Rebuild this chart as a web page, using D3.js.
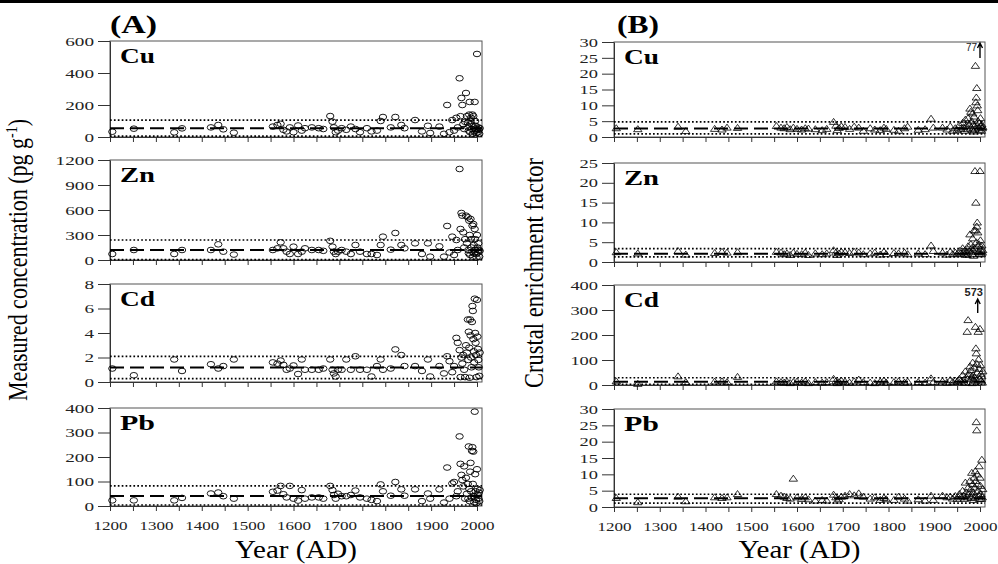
<!DOCTYPE html>
<html>
<head>
<meta charset="utf-8">
<script src="https://cdn.jsdelivr.net/npm/d3@7"></script>
<style>
  body { margin: 0; background: #fff; }
  svg { display: block; }
  svg text { font-family: 'Liberation Serif', 'Times New Roman', serif; }
  svg text.flag { font-family: 'Liberation Sans', Arial, sans-serif; }
</style>
</head>
<body>
<div id="chart"></div>
<script>
// sample years (shared by every panel)
const years = [1205, 1252, 1340, 1357, 1420, 1436, 1447, 1470,
  1555, 1565, 1572, 1578, 1585, 1592, 1600, 1610, 1618, 1625, 1640, 1655, 1665, 1680, 1685, 1688, 1692, 1697,
  1705, 1715, 1725, 1735, 1745, 1760, 1770, 1782, 1790, 1795, 1812, 1822, 1835, 1842, 1865, 1880, 1893, 1898,
  1918, 1928, 1935, 1940, 1946, 1950, 1955, 1958, 1962, 1964, 1966, 1968, 1970, 1972, 1974, 1976, 1978,
  1980, 1981, 1982, 1983, 1984, 1985, 1986, 1987, 1988, 1989, 1990, 1991, 1992, 1993, 1994, 1995, 1996,
  1997, 1998, 1999, 2000, 2001, 2002, 2003, 2004, 2005, 2006];

// (A) measured concentration, pg/g
const cuConc = [33, 52, 29, 54, 60, 75, 48, 27,
  65, 75, 82, 45, 35, 60, 30, 72, 40, 55, 60, 55, 50, 131, 96, 60, 30, 40, 55, 45, 65, 50, 30, 55, 35, 40, 100, 125, 60, 125, 75, 55, 106, 35, 70, 25,
  65, 20, 200, 30, 106, 40, 120, 60, 367, 130, 244, 200, 80, 50, 95, 275, 130, 90, 60, 40, 140, 219, 30, 100, 120, 80, 50, 140, 20, 130, 60, 35, 219, 100, 70, 40, 25, 519, 50, 30, 60, 45, 20, 55];
const znConc = [72, 120, 72, 120, 120, 188, 100, 65,
  120, 140, 212, 140, 100, 72, 160, 72, 100, 140, 120, 120, 110, 230, 160, 100, 72, 100, 120, 100, 72, 180, 100, 72, 72, 60, 180, 280, 124, 324, 180, 140, 200, 72, 200, 40,
  164, 40, 408, 90, 280, 60, 240, 120, 1092, 372, 564, 532, 332, 150, 250, 532, 200, 512, 120, 80, 472, 300, 60, 492, 250, 150, 100, 412, 40, 432, 180, 80, 372, 250, 120, 70, 30, 300, 150, 90, 200, 120, 40, 110];
const cdConc = [1.1, 0.55, 1.84, 0.9, 1.45, 1.1, 1.3, 1.84,
  1.6, 1.5, 1.75, 1.4, 1.0, 1.1, 1.35, 0.65, 1.84, 1.0, 1.0, 1.0, 1.1, 1.84, 1.0, 0.7, 0.45, 1.0, 1.0, 1.84, 1.0, 2.1, 1.0, 1.0, 0.45, 1.3, 1.84, 1.0, 1.1, 2.66, 2.2, 1.3, 1.3, 0.9, 1.84, 0.45,
  1.3, 0.7, 2.1, 1.7, 0.8, 1.3, 3.6, 3.2, 2.6, 0.4, 2.0, 1.5, 2.2, 1.0, 0.4, 3.0, 2.4, 5.1, 1.8, 4.1, 2.8, 0.35, 5.1, 3.8, 2.0, 1.2, 4.9, 6.2, 5.8, 3.5, 2.5, 1.6, 6.8, 4.0, 3.2, 2.2, 0.4, 6.7, 3.7, 2.7, 1.8, 1.2, 0.5, 2.4];
const pbConc = [23, 23, 23, 33, 51, 55, 40, 30,
  58, 63, 82, 48, 35, 82, 30, 22, 65, 30, 35, 35, 30, 82, 65, 45, 30, 50, 40, 40, 45, 63, 35, 30, 25, 20, 88, 60, 42, 98, 68, 42, 68, 20, 51, 30,
  68, 14, 157, 30, 92, 98, 40, 60, 284, 172, 127, 106, 80, 162, 30, 115, 50, 90, 30, 243, 70, 20, 140, 176, 60, 35, 225, 240, 90, 222, 40, 15, 385, 130, 60, 25, 12, 150, 70, 45, 30, 55, 20, 65];

// (B) crustal enrichment factor
const cuEF = [2.8, 2.5, 3.3, 1.9, 2.6, 2.4, 3.0, 2.9,
  3.5, 3.0, 2.8, 3.2, 2.5, 3.0, 2.6, 2.4, 2.8, 2.7, 2.5, 2.2, 2.6, 4.8, 3.6, 2.2, 2.9, 3.4, 3.2, 2.6, 3.3, 3.0, 2.0, 2.8, 2.4, 2.2, 3.0, 2.6, 2.3, 2.0, 2.8, 3.3, 2.3, 2.5, 5.8, 3.0,
  3.0, 2.4, 3.4, 2.0, 2.8, 2.2, 3.8, 2.6, 4.5, 3.1, 2.0, 5.5, 3.5, 2.5, 6.0, 4.0, 9.0, 8.0, 3.0, 5.0, 2.2, 7.5, 4.0, 1.8, 6.5, 3.5, 2.5, 22.5, 11.0, 12.5, 15.5, 10.0, 8.5, 5.0, 3.0, 4.5, 2.2, 77, 6.0, 3.5, 2.0, 4.0, 2.8, 3.2];
const znEF = [2.5, 2.2, 2.8, 1.9, 2.3, 2.6, 2.4, 2.5,
  2.6, 2.4, 2.0, 2.2, 1.8, 2.4, 2.1, 2.0, 2.4, 1.8, 2.2, 2.0, 2.2, 3.0, 2.4, 1.8, 2.2, 2.6, 2.5, 2.3, 2.6, 2.4, 2.0, 2.2, 2.4, 1.9, 2.6, 2.0, 2.3, 2.2, 2.4, 2.0, 2.2, 2.0, 4.2, 2.8,
  2.4, 1.9, 2.6, 2.0, 2.4, 2.0, 2.8, 2.2, 3.5, 2.6, 2.0, 3.0, 2.4, 1.8, 4.0, 2.8, 7.0, 4.5, 2.5, 3.5, 2.0, 6.0, 3.0, 1.6, 8.0, 3.4, 23.0, 8.0, 15.0, 5.0, 9.0, 10.0, 7.5, 4.0, 2.6, 4.5, 2.0, 23.0, 5.5, 3.2, 2.0, 4.2, 2.4, 3.0];
const cdEF = [15, 5, 35, 12, 14, 15, 12, 33,
  15, 12, 10, 14, 8, 12, 14, 10, 15, 8, 12, 10, 12, 25, 15, 8, 12, 18, 14, 10, 15, 22, 12, 10, 8, 14, 18, 10, 12, 15, 10, 14, 12, 10, 27, 12,
  15, 10, 20, 12, 18, 14, 25, 15, 40, 20, 10, 55, 30, 213, 260, 45, 75, 60, 25, 35, 8, 90, 40, 20, 70, 30, 15, 233, 147, 127, 85, 50, 573, 213, 103, 65, 25, 225, 80, 45, 18, 35, 10, 55];
const pbEF = [2.8, 1.5, 3.2, 1.8, 3.0, 2.8, 3.0, 4.0,
  4.0, 3.5, 3.2, 2.8, 2.6, 8.7, 3.0, 2.5, 3.0, 2.4, 2.0, 2.2, 2.0, 3.8, 3.0, 2.0, 2.4, 3.2, 3.5, 4.0, 3.6, 4.2, 3.2, 2.6, 3.0, 2.2, 2.8, 2.4, 2.2, 3.2, 2.6, 2.0, 2.4, 2.0, 3.5, 2.2,
  3.5, 3.0, 3.2, 2.6, 3.4, 2.5, 4.0, 3.0, 5.0, 3.5, 2.5, 7.5, 4.5, 3.0, 6.0, 4.0, 8.0, 5.5, 2.8, 10.5, 3.5, 7.0, 4.5, 2.2, 9.0, 6.0, 3.0, 11.0, 8.0, 26.0, 23.5, 10.0, 7.0, 5.0, 3.5, 12.5, 2.5, 9.0, 6.5, 4.0, 2.5, 14.5, 3.0, 5.5];

const elements = ["Cu", "Zn", "Cd", "Pb"];

const concMax = [600, 1200, 8, 400];
const concTicks = [[0, 200, 400, 600], [0, 300, 600, 900, 1200], [0, 2, 4, 6, 8], [0, 100, 200, 300, 400]];
const concMean = [55, 120, 1.18, 41];
const concUpper = [105, 240, 2.1, 82];
const concLower = [6, 5, 0.28, 4];

const efMax = [30, 25, 400, 30];
const efTicks = [[0, 5, 10, 15, 20, 25, 30], [0, 5, 10, 15, 20, 25], [0, 100, 200, 300, 400], [0, 5, 10, 15, 20, 25, 30]];
const efMean = [2.7, 2.1, 13, 2.7];
const efUpper = [4.8, 3.4, 29, 3.9];
const efLower = [1.0, 1.3, 3, 1.2];

const xTicks = d3.range(1200, 2001, 50);

const W = 998, H = 564;

const svg = d3.select("#chart").append("svg")
    .attr("width", W)
    .attr("height", H);

svg.append("rect").attr("width", W).attr("height", 3).attr("fill", "#000");

const columns = [
  {label: "(A)", labelX: 110, labelLen: 47, x0: 110, x1: 477, right: 482,
   tops: [41, 160, 284, 408], bottoms: [137, 260, 382, 506],
   series: [cuConc, znConc, cdConc, pbConc], max: concMax, ticks: concTicks,
   mean: concMean, upper: concUpper, lower: concLower, marker: "circle", charW: 9.6},
  {label: "(B)", labelX: 617, labelLen: 42, x0: 614, x1: 980, right: 985,
   tops: [42, 163, 285, 409], bottoms: [137, 262, 385, 507],
   series: [cuEF, znEF, cdEF, pbEF], max: efMax, ticks: efTicks,
   mean: efMean, upper: efUpper, lower: efLower, marker: "triangle", charW: 9.2}
];

// how the off-scale values are flagged
const arrowStyle = {
  Cu: {arrowTop: 1, arrowLen: 15, labelDx: -3, labelDy: 8, anchor: "end", weight: "normal", size: 10},
  Cd: {arrowTop: 14, arrowLen: 14, labelDx: -4, labelDy: -3, anchor: "middle", weight: "bold", size: 11}
};

const triangle = "M0,-3.4L4.2,2.6L-4.2,2.6Z";

columns.forEach(col => {
  svg.append("text")
      .attr("x", col.labelX)
      .attr("y", 33)
      .attr("font-weight", "bold")
      .attr("font-size", 26)
      .attr("textLength", col.labelLen)
      .attr("lengthAdjust", "spacingAndGlyphs")
      .text(col.label);

  let x = d3.scaleLinear().domain([1200, 2000]).range([col.x0, col.x1]);

  elements.forEach((el, i) => {
    let y = d3.scaleLinear().domain([0, col.max[i]]).range([col.bottoms[i], col.tops[i]]);
    let g = svg.append("g");

    g.append("rect")
        .attr("x", col.x0)
        .attr("y", col.tops[i])
        .attr("width", col.right - col.x0)
        .attr("height", col.bottoms[i] - col.tops[i])
        .attr("fill", "none")
        .attr("stroke", "#555")
        .attr("stroke-width", 1);

    let yAxis = g.append("g")
        .attr("transform", `translate(${col.x0},0)`)
        .call(d3.axisLeft(y).tickValues(col.ticks[i]).tickSize(12).tickSizeOuter(0).tickPadding(4).tickFormat(d3.format("d")));
    yAxis.selectAll("text")
        .attr("font-size", 13)
        .attr("fill", "#222")
        .attr("textLength", d => String(d).length * col.charW)
        .attr("lengthAdjust", "spacingAndGlyphs");

    let xAxis = g.append("g")
        .attr("transform", `translate(0,${col.bottoms[i]})`)
        .call(d3.axisBottom(x).tickValues(xTicks).tickSize(5).tickSizeOuter(0).tickPadding(10)
            .tickFormat(d => (i === 3 && d % 100 === 0) ? d : ""));
    xAxis.selectAll("text")
        .attr("font-size", 13)
        .attr("fill", "#222")
        .attr("textLength", d => (i === 3 && d % 100 === 0) ? 34 : null)
        .attr("lengthAdjust", "spacingAndGlyphs");
    g.selectAll(".domain").attr("stroke", "#333");
    g.selectAll(".tick line").attr("stroke", "#333");

    // reference lines
    g.append("line")
        .attr("x1", col.x0).attr("x2", col.right)
        .attr("y1", y(col.upper[i])).attr("y2", y(col.upper[i]))
        .attr("stroke", "#000").attr("stroke-width", 1.7).attr("stroke-dasharray", "1.7,2.2");
    g.append("line")
        .attr("x1", col.x0).attr("x2", col.right)
        .attr("y1", y(col.lower[i])).attr("y2", y(col.lower[i]))
        .attr("stroke", "#000").attr("stroke-width", 1.7).attr("stroke-dasharray", "1.7,2.2");
    g.append("line")
        .attr("x1", col.x0).attr("x2", col.right)
        .attr("y1", y(col.mean[i])).attr("y2", y(col.mean[i]))
        .attr("stroke", "#000").attr("stroke-width", 2.1).attr("stroke-dasharray", "14,6");

    let pts = years.map((yr, k) => ({year: yr, v: col.series[i][k]}));
    let inside = pts.filter(d => d.v <= col.max[i]);
    let over = pts.filter(d => d.v > col.max[i]);

    if (col.marker === "circle") {
      g.selectAll("ellipse")
        .data(inside)
        .enter()
        .append("ellipse")
          .attr("cx", d => x(d.year))
          .attr("cy", d => y(d.v))
          .attr("rx", 3.7)
          .attr("ry", 2.8)
          .attr("fill", "none")
          .attr("stroke", "#000")
          .attr("stroke-width", 0.9);
    } else {
      g.selectAll("path.tri")
        .data(inside)
        .enter()
        .append("path")
          .attr("class", "tri")
          .attr("d", triangle)
          .attr("transform", d => `translate(${x(d.year)},${y(d.v)})`)
          .attr("fill", "none")
          .attr("stroke", "#000")
          .attr("stroke-width", 0.8);
    }

    over.forEach(d => {
      let s = arrowStyle[el];
      let ax = x(d.year);
      let yTop = col.tops[i] + s.arrowTop;
      g.append("path")
          .attr("d", `M${ax},${yTop + s.arrowLen}L${ax},${yTop}M${ax - 2.5},${yTop + 5}L${ax},${yTop}L${ax + 2.5},${yTop + 5}`)
          .attr("fill", "none")
          .attr("stroke", "#000")
          .attr("stroke-width", 1.4);
      g.append("text")
          .attr("class", "flag")
          .attr("x", ax + s.labelDx)
          .attr("y", yTop + s.labelDy)
          .attr("text-anchor", s.anchor)
          .attr("font-weight", s.weight)
          .attr("font-size", s.size)
          .attr("fill", "#222")
          .text(d.v);
    });

    g.append("text")
        .attr("x", col.x0 + 10)
        .attr("y", col.tops[i] + 22)
        .attr("font-weight", "bold")
        .attr("font-size", 21)
        .attr("textLength", 35)
        .attr("lengthAdjust", "spacingAndGlyphs")
        .text(el);
  });

  svg.append("text")
      .attr("x", (col.x0 + col.right) / 2)
      .attr("y", 558)
      .attr("text-anchor", "middle")
      .attr("font-size", 26)
      .attr("textLength", 122)
      .attr("lengthAdjust", "spacingAndGlyphs")
      .text("Year (AD)");
});

// y titles
let yTitleA = svg.append("text")
    .attr("transform", "translate(27,260) scale(1.25,1) rotate(-90)")
    .attr("text-anchor", "middle")
    .attr("font-size", 22);
yTitleA.append("tspan").text("Measured concentration (pg g");
yTitleA.append("tspan").attr("dy", -8).attr("font-size", 14).text("-1");
yTitleA.append("tspan").attr("dy", 8).text(")");

svg.append("text")
    .attr("transform", "translate(543,273) scale(1.25,1) rotate(-90)")
    .attr("text-anchor", "middle")
    .attr("font-size", 22.5)
    .text("Crustal enrichment factor");
</script>
</body>
</html>
